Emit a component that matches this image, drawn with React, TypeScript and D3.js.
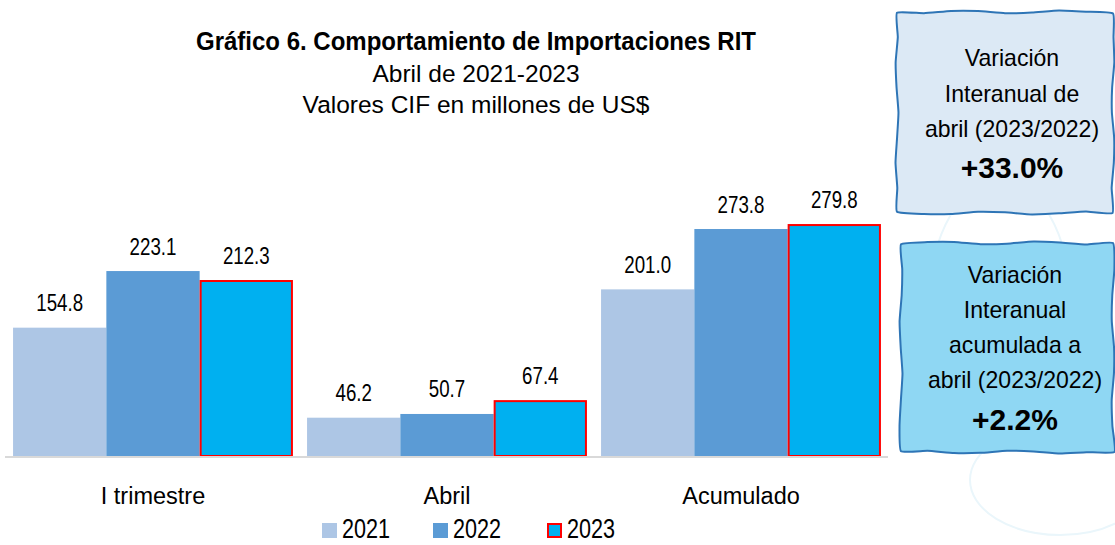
import React from "react";
import * as d3 from "d3";

const categories = ["I trimestre", "Abril", "Acumulado"];
const years = ["2021", "2022", "2023"];
const values2021 = [154.8, 46.2, 201.0];
const values2022 = [223.1, 50.7, 273.8];
const values2023 = [212.3, 67.4, 279.8];
const seriesValues = [values2021, values2022, values2023];
const seriesColors = ["#adc6e5", "#5b9bd5", "#00b0f0"];
const titleLines = ["Gráfico 6. Comportamiento de Importaciones RIT", "Abril de 2021-2023", "Valores CIF en millones de US$"];
const box1Lines = ["Variación", "Interanual de", "abril (2023/2022)"];
const box1Value = "+33.0%";
const box2Lines = ["Variación", "Interanual", "acumulada a", "abril (2023/2022)"];
const box2Value = "+2.2%";

const W = 1115;
const H = 545;
const FONT = "'Liberation Sans', Arial, sans-serif";

function wavyRect(x0: number, y0: number, x1: number, y1: number, amp: number, seed: number) {
  const pts: [number, number][] = [];
  const n = 8;
  const off = (i: number) => Math.sin(i * 1.7 + seed) * amp;
  for (let i = 0; i <= n; i++) pts.push([x0 + ((x1 - x0) * i) / n, y0 + off(i)]);
  for (let i = 1; i <= n; i++) pts.push([x1 + off(i + 10), y0 + ((y1 - y0) * i) / n]);
  for (let i = 1; i <= n; i++) pts.push([x1 - ((x1 - x0) * i) / n, y1 + off(i + 20)]);
  for (let i = 1; i < n; i++) pts.push([x0 + off(i + 30), y1 - ((y1 - y0) * i) / n]);
  return d3.line().curve(d3.curveCardinalClosed.tension(0.6))(pts) || "";
}

function T(props: { x: number; y: number; sx?: number; size: number; bold?: boolean; anchor?: string; children: React.ReactNode }) {
  const { x, y, sx = 1, size, bold, anchor = "middle", children } = props;
  return (
    <text
      transform={`translate(${x},${y}) scale(${sx},1)`}
      textAnchor={anchor}
      fontSize={size}
      fontWeight={bold ? "bold" : "normal"}
      fill="#000"
    >
      {children}
    </text>
  );
}

export default function App() {
  const x0 = d3.scaleBand().domain(categories).range([6, 888]).paddingInner(0.048).paddingOuter(0.024);
  const x1 = d3.scaleBand().domain(years).range([0, x0.bandwidth()]).padding(0);
  const y = d3.scaleLinear().domain([0, 300]).range([456, 207.3]);

  return (
    <svg width={W} height={H} style={{ display: "block", position: "absolute", left: 0, top: 0 }} fontFamily={FONT}>
      <rect width={W} height={H} fill="#ffffff" />
      <g fill="none" stroke="#eaf6fb" strokeWidth={2}>
        <ellipse cx={1060} cy={480} rx={90} ry={55} />
        <ellipse cx={1000} cy={300} rx={70} ry={120} />
      </g>
      <T x={476} y={50} size={25} sx={0.96} bold>{titleLines[0]}</T>
      <T x={476} y={82} size={24.5}>{titleLines[1]}</T>
      <T x={476} y={113} size={24.5}>{titleLines[2]}</T>

      {categories.map((c, ci) => (
        <g key={c} transform={`translate(${x0(c)},0)`}>
          {years.map((yr, si) => {
            const v = seriesValues[si][ci];
            const bx = x1(yr)!;
            const bw = x1.bandwidth();
            return (
              <g key={yr}>
                <rect
                  x={bx + (si === 2 ? 1 : 0)}
                  y={y(v) + (si === 2 ? 1 : 0)}
                  width={bw - (si === 2 ? 2 : 0)}
                  height={y(0) - y(v) - (si === 2 ? 1 : 0)}
                  fill={seriesColors[si]}
                  stroke={si === 2 ? "#ff0000" : "none"}
                  strokeWidth={2}
                />
                <T x={bx + bw / 2} y={y(v) - 16.5} size={24} sx={0.78}>{v.toFixed(1)}</T>
              </g>
            );
          })}
        </g>
      ))}
      <line x1={5} x2={888} y1={457} y2={457} stroke="#d9d9d9" strokeWidth={2} />
      {categories.map((c) => (
        <T key={c} x={x0(c)! + x0.bandwidth() / 2} y={504} size={23.5}>{c}</T>
      ))}

      {years.map((yr, i) => {
        const lx = [322, 433, 547][i];
        return (
          <g key={yr}>
            <rect x={lx + (i === 2 ? 1 : 0)} y={523 + (i === 2 ? 1 : 0)} width={i === 2 ? 13 : 15} height={i === 2 ? 13 : 15} fill={seriesColors[i]} stroke={i === 2 ? "#ff0000" : "none"} strokeWidth={2} />
            <T x={lx + 20} y={538} size={27} sx={0.8} anchor="start">{yr}</T>
          </g>
        );
      })}

      <path d={wavyRect(897, 12, 1113, 213, 1.5, 0.5)} fill="#dce9f5" stroke="#2e75b6" strokeWidth={2} />
      {box1Lines.map((t, i) => (
        <T key={i} x={1012} y={66 + i * 35.5} size={24} sx={0.96}>{t}</T>
      ))}
      <T x={1012} y={178} size={30} bold>{box1Value}</T>

      <path d={wavyRect(901, 243, 1113, 452, 1.5, 2.1)} fill="#8fd7f3" stroke="#2e75b6" strokeWidth={2} />
      {box2Lines.map((t, i) => (
        <T key={i} x={1015} y={283 + i * 35} size={24} sx={0.96}>{t}</T>
      ))}
      <T x={1015} y={430} size={30} bold>{box2Value}</T>
    </svg>
  );
}
